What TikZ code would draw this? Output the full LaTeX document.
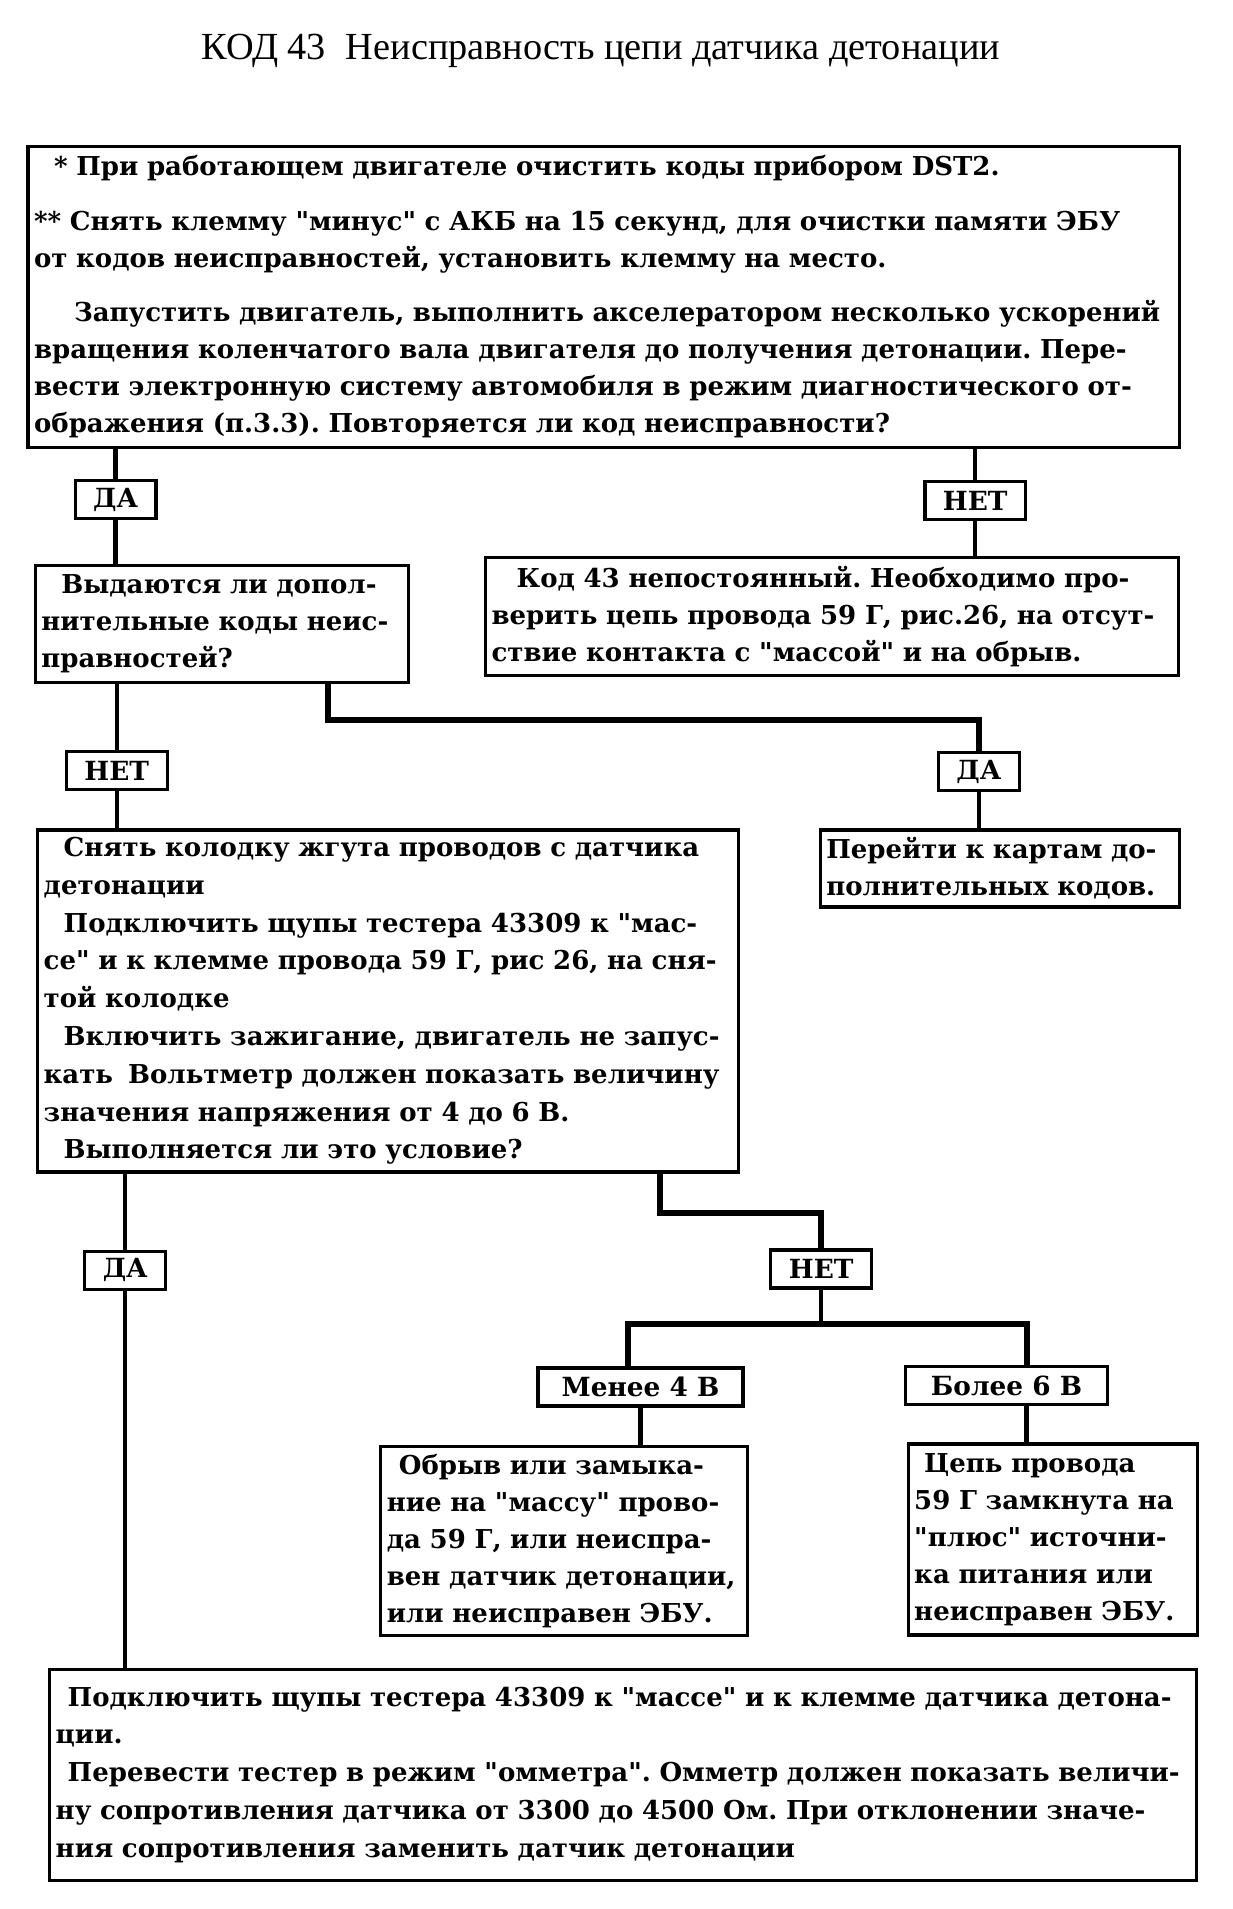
\documentclass[tikz,border=0pt]{standalone}
\usepackage{fontspec}
\setmainfont{Liberation Serif}
\newfontfamily\boxfont{DejaVu Serif}[Ligatures=TeXOff]
\frenchspacing
\begin{document}
\begin{tikzpicture}[x = 0.01204cm, y = -0.01204cm, line width = 1.2pt,
                    box/.style = {draw, line width = 0.9pt, anchor = north west, align = left,
                                  inner xsep = 0.06cm, inner ysep = 0.04cm,
                                  font = \boxfont\bfseries\fontsize{7.4}{10.5}\selectfont},
                    tall/.style = {font = \boxfont\bfseries\fontsize{7.4}{10.75}\selectfont},
                    ans/.style = {draw, line width = 0.9pt, fill = white, inner xsep = 0.18cm,
                                  inner ysep = 0.04cm, minimum height = 0.38cm,
                                  font = \boxfont\bfseries\fontsize{7.5}{10.5}\selectfont},
                    bar/.style = {line width = 1.7pt}]
      \useasboundingbox (0, 0) rectangle (1024, 1585.5);
      \node [font = \fontsize{10.9}{13}\selectfont] (title) at (499, 42)
            {КОД 43\hspace{0.2cm}Неисправность цепи датчика детонации};

      % boxes
      \node [box, minimum width = 11.51cm, minimum height = 3.01cm, text width = 11.39cm] (b1) at (22, 120)
            {\hspace*{0.2cm}* При работающем двигателе очистить коды прибором DST2.\\[0.18cm]
             ** Снять клемму "минус" с АКБ на 15 секунд, для очистки памяти ЭБУ\\
             от кодов неисправностей, установить клемму на место.\\[0.18cm]
             \hspace*{0.4cm}Запустить двигатель, выполнить акселератором несколько ускорений\\
             вращения коленчатого вала двигателя до получения детонации. Пере-\\
             вести электронную систему автомобиля в режим диагностического от-\\
             ображения (п.3.3). Повторяется ли код неисправности?};
      \node [box, minimum width = 3.73cm, minimum height = 1.17cm, text width = 3.61cm] (b2) at (28, 468)
            {\hspace*{0.2cm}Выдаются ли допол-\\
             нительные коды неис-\\
             правностей?};
      \node [box, minimum width = 6.93cm, minimum height = 1.18cm, text width = 6.81cm] (b3) at (402, 462)
            {\hspace*{0.25cm}Код 43 непостоянный. Необходимо про-\\
             верить цепь провода 59 Г, рис.26, на отсут-\\
             ствие контакта с "массой" и на обрыв.};
      \node [box, tall, minimum width = 7.01cm, minimum height = 3.42cm, text width = 6.89cm] (b4) at (30, 688)
            {\hspace*{0.2cm}Снять колодку жгута проводов с датчика\\
             детонации\\
             \hspace*{0.2cm}Подключить щупы тестера 43309 к "мас-\\
             се" и к клемме провода 59 Г, рис 26, на сня-\\
             той колодке\\
             \hspace*{0.2cm}Включить зажигание, двигатель не запус-\\
             кать\hspace{0.15cm}Вольтметр должен показать величину\\
             значения напряжения от 4 до 6 В.\\
             \hspace*{0.2cm}Выполняется ли это условие?};
      \node [box, minimum width = 3.59cm, minimum height = 0.77cm, text width = 3.47cm] (b5) at (680, 688)
            {Перейти к картам до-\\
             полнительных кодов.};
      \node [box, minimum width = 3.67cm, minimum height = 1.89cm, text width = 3.55cm] (b6) at (315, 1200)
            {\hspace*{0.12cm}Обрыв или замыка-\\
             ние на "массу" прово-\\
             да 59 Г, или неиспра-\\
             вен датчик детонации,\\
             или неисправен ЭБУ.};
      \node [box, minimum width = 2.89cm, minimum height = 1.91cm, text width = 2.77cm] (b7) at (753, 1198)
            {\hspace*{0.1cm}Цепь провода\\
             59 Г замкнута на\\
             "плюс" источни-\\
             ка питания или\\
             неисправен ЭБУ.};
      \node [box, tall, minimum width = 11.47cm, minimum height = 2.11cm, text width = 11.35cm] (b8) at (40, 1385)
            {\hspace*{0.12cm}Подключить щупы тестера 43309 к "массе" и к клемме датчика детона-\\
             ции.\\
             \hspace*{0.12cm}Перевести тестер в режим "омметра". Омметр должен показать величи-\\
             ну сопротивления датчика от 3300 до 4500 Ом. При отклонении значе-\\
             ния сопротивления заменить датчик детонации};

      % answers
      \node [ans] (yes1) at (96, 415){ДА};
      \node [ans] (no1) at (810, 416){НЕТ};
      \node [ans] (no2) at (97, 640){НЕТ};
      \node [ans] (yes2) at (813, 641){ДА};
      \node [ans] (yes3) at (104, 1055){ДА};
      \node [ans] (no3) at (682, 1054){НЕТ};
      \node [ans, minimum width = 2.05cm] (less) at (532, 1152){Менее 4 В};
      \node [ans, minimum width = 2.02cm] (more) at (836, 1151){Более 6 В};
      \coordinate (fork) at (682, 1100);

      % connectors
      \draw (yes1.north |- b1.south) -- (yes1.north);
      \draw (yes1.south) -- (yes1.south |- b2.north);
      \draw (no1.north |- b1.south) -- (no1.north);
      \draw (no1.south) -- (no1.south |- b3.north);
      \draw (no2.north |- b2.south) -- (no2.north);
      \draw (no2.south) -- (no2.south |- b4.north);
      \draw [bar] ([xshift = 2.94cm]b2.south west) -- ++(0, 30) -| (yes2.north);
      \draw (yes2.south) -- (yes2.south |- b5.north);
      \draw (yes3.north |- b4.south) -- (yes3.north);
      \draw (yes3.south) -- (yes3.south |- b8.north);
      \draw [bar] ([xshift = 6.24cm]b4.south west) -- ++(0, 33) -| (no3.north);
      \draw (no3.south) -- (fork);
      \draw [bar] ([xshift = -0.13cm]less.north) |- (fork) -| ([xshift = 0.2cm]more.north);
      \draw (less.south) -- (less.south |- b6.north);
      \draw ([xshift = 0.2cm]more.south) -- ([xshift = 0.2cm]more.south |- b7.north);

      \end{tikzpicture}
\end{document}
